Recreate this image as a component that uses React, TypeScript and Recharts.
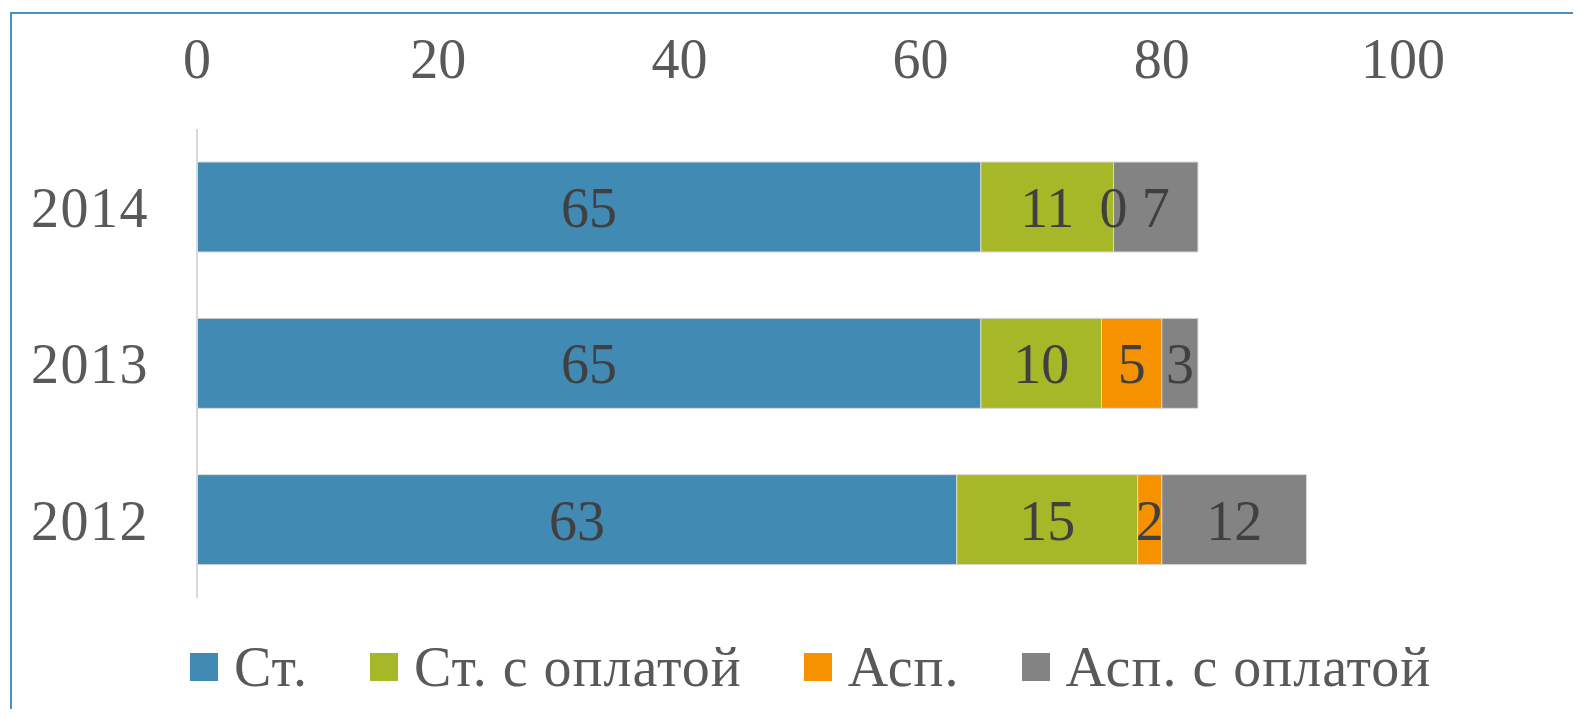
import { BarChart, Bar, XAxis, YAxis, Legend, LabelList } from "recharts";

// categories, top to bottom
const years = ["2014", "2013", "2012"];

// series values per year
const stValues = [65, 65, 63];
const stPaidValues = [11, 10, 15];
const aspValues = [0, 5, 2];
const aspPaidValues = [7, 3, 12];

const xTicks = [0, 20, 40, 60, 80, 100];

const series = [
  { key: "st", name: "Ст.", color: "#418AB3" },
  { key: "stPaid", name: "Ст. с оплатой", color: "#A6B727" },
  { key: "asp", name: "Асп.", color: "#F69200" },
  { key: "aspPaid", name: "Асп. с оплатой", color: "#838383" },
];

const data = years.map((year, i) => ({
  year,
  st: stValues[i],
  stPaid: stPaidValues[i],
  asp: aspValues[i],
  aspPaid: aspPaidValues[i],
}));

const FONT = "'Liberation Serif', 'DejaVu Serif', serif";

function LegendContent() {
  return (
    <div
      style={{
        display: "flex",
        alignItems: "center",
        height: 70,
        paddingLeft: 182,
        fontFamily: FONT,
        fontSize: 56,
        letterSpacing: 1,
        color: "#595959",
      }}
    >
      {series.map((s, i) => (
        <div
          key={s.key}
          style={{ display: "flex", alignItems: "center", marginLeft: i === 0 ? 0 : 62 }}
        >
          <div style={{ width: 28, height: 28, background: s.color, marginRight: 16 }} />
          <span style={{ lineHeight: "70px", whiteSpace: "nowrap" }}>{s.name}</span>
        </div>
      ))}
    </div>
  );
}

export default function App() {
  return (
    <div style={{ position: "relative", width: 1573, height: 701, overflow: "hidden", background: "#fff" }}>
      <div
        style={{
          position: "absolute",
          left: 2,
          top: 4,
          right: -10,
          bottom: -10,
          borderTop: "2px solid #4A90C2",
          borderLeft: "2px solid #4A90C2",
        }}
      />
      <div style={{ position: "absolute", left: 0, top: 0 }}>
        <BarChart
          layout="vertical"
          width={1573}
          height={701}
          data={data}
          margin={{ top: 0, right: 178, bottom: 111, left: 0 }}
        >
          <XAxis
            type="number"
            orientation="top"
            domain={[0, 100]}
            ticks={xTicks}
            height={121}
            axisLine={false}
            tickLine={false}
            tickSize={0}
            tickMargin={51}
            tick={{ fontSize: 56, fill: "#595959", fontFamily: FONT }}
          />
          <YAxis
            type="category"
            dataKey="year"
            width={189}
            axisLine={{ stroke: "#D9D9D9", strokeWidth: 2 }}
            tickLine={false}
            tickSize={0}
            tickMargin={48}
            tick={{ fontSize: 56, fill: "#595959", fontFamily: FONT, letterSpacing: 1.5 }}
          />
          <Legend
            layout="horizontal"
            verticalAlign="middle"
            content={<LegendContent />}
            wrapperStyle={{ top: 624, left: 0, width: 1573, height: 70 }}
          />
          {series.map((s) => (
            <Bar
              key={s.key}
              dataKey={s.key}
              name={s.name}
              stackId="a"
              fill={s.color}
              stroke="#D9D9D9"
              strokeWidth={1}
              barSize={90}
              minPointSize={0.01}
              isAnimationActive={false}
            >
              <LabelList
                dataKey={s.key}
                position="center"
                fill="#404040"
                fontSize={56}
                fontFamily={FONT}
              />
            </Bar>
          ))}
        </BarChart>
      </div>
    </div>
  );
}
